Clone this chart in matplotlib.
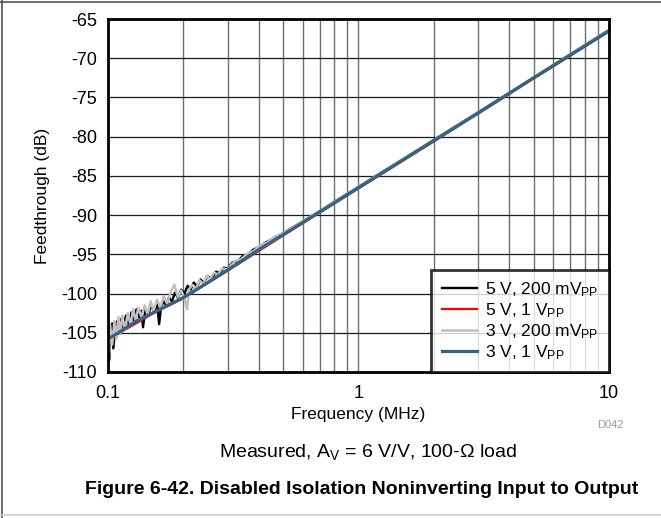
import matplotlib
matplotlib.use("Agg")
import matplotlib.pyplot as plt
from matplotlib.lines import Line2D

plt.rcParams['font.family'] = ['Liberation Sans', 'DejaVu Sans']
plt.rcParams['mathtext.fontset'] = 'custom'
plt.rcParams['mathtext.rm'] = 'Liberation Sans'
plt.rcParams['mathtext.it'] = 'Liberation Sans:italic'
plt.rcParams['mathtext.bf'] = 'Liberation Sans:bold'

# ---- data ----
black_f = [0.100, 0.101, 0.102, 0.104, 0.105, 0.107, 0.109, 0.111, 0.113, 0.115,
           0.118, 0.121, 0.124, 0.127, 0.130, 0.133, 0.136, 0.138, 0.141, 0.145,
           0.149, 0.153, 0.157, 0.160, 0.163, 0.167, 0.171, 0.175, 0.180, 0.185,
           0.190, 0.196, 0.202, 0.208, 0.214, 0.220, 0.227, 0.234, 0.241, 0.250,
           0.260, 0.270, 0.280, 0.290, 0.300, 0.315, 0.330, 0.345, 0.360, 0.380,
           0.400, 0.430, 0.460, 0.500, 0.550, 0.600, 0.650, 0.700, 0.800, 0.900,
           1.0, 1.2, 1.5, 2.0, 3.0, 5.0, 7.0, 10.0]
black_db = [-104.0, -108.5, -105.5, -103.8, -107.0, -104.2, -103.5, -105.0, -103.2, -104.3,
            -102.8, -104.0, -102.4, -103.5, -102.0, -103.0, -102.2, -104.3, -102.0, -102.6,
            -101.5, -102.3, -101.2, -103.9, -101.6, -101.0, -101.6, -100.5, -101.0, -99.9,
            -100.5, -99.5, -100.0, -99.0, -99.5, -98.6, -99.1, -98.2, -98.6, -97.8,
            -98.1, -97.2, -97.4, -96.7, -96.8, -96.0, -95.9, -95.2, -95.1, -94.4,
            -94.1, -93.4, -93.0, -92.3, -91.5, -90.8, -90.1, -89.5, -88.3, -87.3,
            -86.4, -84.8, -82.9, -80.4, -76.9, -72.5, -69.5, -66.4]

red_f = [0.100, 0.102, 0.105, 0.110, 0.120, 0.150, 0.200, 0.300, 0.500, 1.0, 2.0, 5.0, 10.0]
red_db = [-107.0, -106.0, -105.6, -105.1, -104.4, -102.6, -100.6, -97.1, -92.6, -86.6, -80.6, -72.6, -66.6]

gray_f = [0.100, 0.101, 0.102, 0.104, 0.106, 0.108, 0.110, 0.112, 0.114, 0.117,
          0.120, 0.123, 0.126, 0.129, 0.132, 0.136, 0.140, 0.144, 0.148, 0.152,
          0.157, 0.162, 0.167, 0.172, 0.178, 0.184, 0.190, 0.196, 0.202, 0.207,
          0.211, 0.218, 0.225, 0.232, 0.240, 0.248, 0.256, 0.265, 0.275, 0.285,
          0.300, 0.320, 0.340, 0.360, 0.380, 0.400, 0.430, 0.460, 0.500, 0.550,
          0.600, 0.650, 0.700, 0.800, 0.900, 1.0, 1.2, 1.5, 2.0, 3.0,
          5.0, 7.0, 10.0]
gray_db = [-105.0, -107.5, -104.0, -106.5, -103.5, -105.8, -103.0, -105.2, -102.8, -104.6,
           -102.5, -104.0, -102.0, -103.5, -101.8, -103.0, -101.5, -102.7, -101.0, -102.2,
           -100.8, -101.8, -100.3, -101.3, -99.8, -98.9, -100.4, -99.6, -100.6, -102.0,
           -99.4, -98.9, -99.4, -98.3, -98.8, -97.7, -98.2, -97.3, -97.6, -96.8,
           -96.9, -95.9, -95.6, -94.9, -94.6, -94.0, -93.5, -92.8, -92.3, -91.5,
           -90.8, -90.1, -89.5, -88.3, -87.3, -86.4, -84.8, -82.9, -80.4, -76.9,
           -72.5, -69.5, -66.4]

teal_f = [0.100, 0.110, 0.120, 0.130, 0.150, 0.200, 0.250, 0.300, 0.400, 0.500,
          0.700, 1.0, 2.0, 3.0, 5.0, 7.0, 10.0]
teal_db = [-105.8, -105.0, -104.2, -103.5, -102.5, -100.5, -98.6, -97.0, -94.4, -92.5,
           -89.6, -86.5, -80.5, -77.0, -72.5, -69.6, -66.5]

labels = ['5 V, 200 mV$_{\\mathrm{PP}}$', '5 V, 1 V$_{\\mathrm{PP}}$',
          '3 V, 200 mV$_{\\mathrm{PP}}$', '3 V, 1 V$_{\\mathrm{PP}}$']
colors = ['#000000', '#FF0000', '#C0C0C0', '#2E6683']

x_ticks = [0.1, 1, 10]
x_ticklabels = ['0.1', '1', '10']
y_ticks = [-110, -105, -100, -95, -90, -85, -80, -75, -70, -65]

# ---- figure ----
fig = plt.figure(figsize=(6.61, 5.18), dpi=100)
ax = fig.add_axes([108/661, 1-372/518, (609-108)/661, (372-19)/518])

ax.plot(black_f, black_db, color=colors[0], lw=1.7, label=labels[0], zorder=3)
ax.plot(red_f, red_db, color=colors[1], lw=1.6, label=labels[1], zorder=3)
ax.plot(gray_f, gray_db, color=colors[2], lw=1.8, label=labels[2], zorder=3)
ax.plot(teal_f, teal_db, color=colors[3], lw=2.3, label=labels[3], zorder=4)

ax.set_xscale('log')
ax.set_xlim(0.1, 10)
ax.set_ylim(-110, -65)
ax.set_xticks(x_ticks)
ax.set_xticklabels(x_ticklabels)
ax.set_yticks(y_ticks)
ax.set_yticklabels([str(v) for v in y_ticks])
ax.xaxis.set_minor_locator(matplotlib.ticker.LogLocator(base=10, subs=range(2, 10)))
ax.xaxis.set_minor_formatter(matplotlib.ticker.NullFormatter())
ax.tick_params(axis='both', which='both', length=0, labelsize=13)
ax.tick_params(axis='x', pad=9)
ax.tick_params(axis='y', pad=8)
ax.grid(True, axis='x', which='both', color='#6f6f6f', lw=1.0)
ax.grid(True, axis='y', which='major', color='#1a1a1a', lw=0.9)
for s in ax.spines.values():
    s.set_linewidth(2.0)
    s.set_color('black')
    s.set_zorder(5)

ax.set_xlabel('Frequency (MHz)', fontsize=12.5, labelpad=4)
ax.set_ylabel('Feedthrough (dB)', fontsize=12.5, labelpad=8)

leg = ax.legend(loc='lower right', frameon=True, fancybox=False, fontsize=12.5,
                borderaxespad=0, handlelength=2.0, handletextpad=0.5,
                labelspacing=0.12, borderpad=0.6)
leg.get_frame().set_edgecolor('black')
leg.get_frame().set_linewidth(2.0)
leg.set_zorder(6)

fig.text(610/661, 1-425/518, 'D042', fontsize=8, color='#999999', ha='center', va='center')
fig.text(368/661, 1-452/518, 'Measured, A$_{\\mathrm{V}}$ = 6 V/V, 100-\u03a9 load',
         fontsize=14, ha='center', va='center')
fig.text(362/661, 1-490/518, 'Figure 6-42. Disabled Isolation Noninverting Input to Output',
         fontsize=14, fontweight='bold', ha='center', va='center')

# figure border lines
fig.add_artist(Line2D([0, 1], [1-1.5/518, 1-1.5/518], transform=fig.transFigure, color='#555555', lw=1.2))
fig.add_artist(Line2D([1.5/661, 1.5/661], [0, 1], transform=fig.transFigure, color='#555555', lw=1.2))
fig.add_artist(Line2D([0, 1], [3/518, 3/518], transform=fig.transFigure, color='#cccccc', lw=1.2))

fig.savefig('out.png', dpi=100)
